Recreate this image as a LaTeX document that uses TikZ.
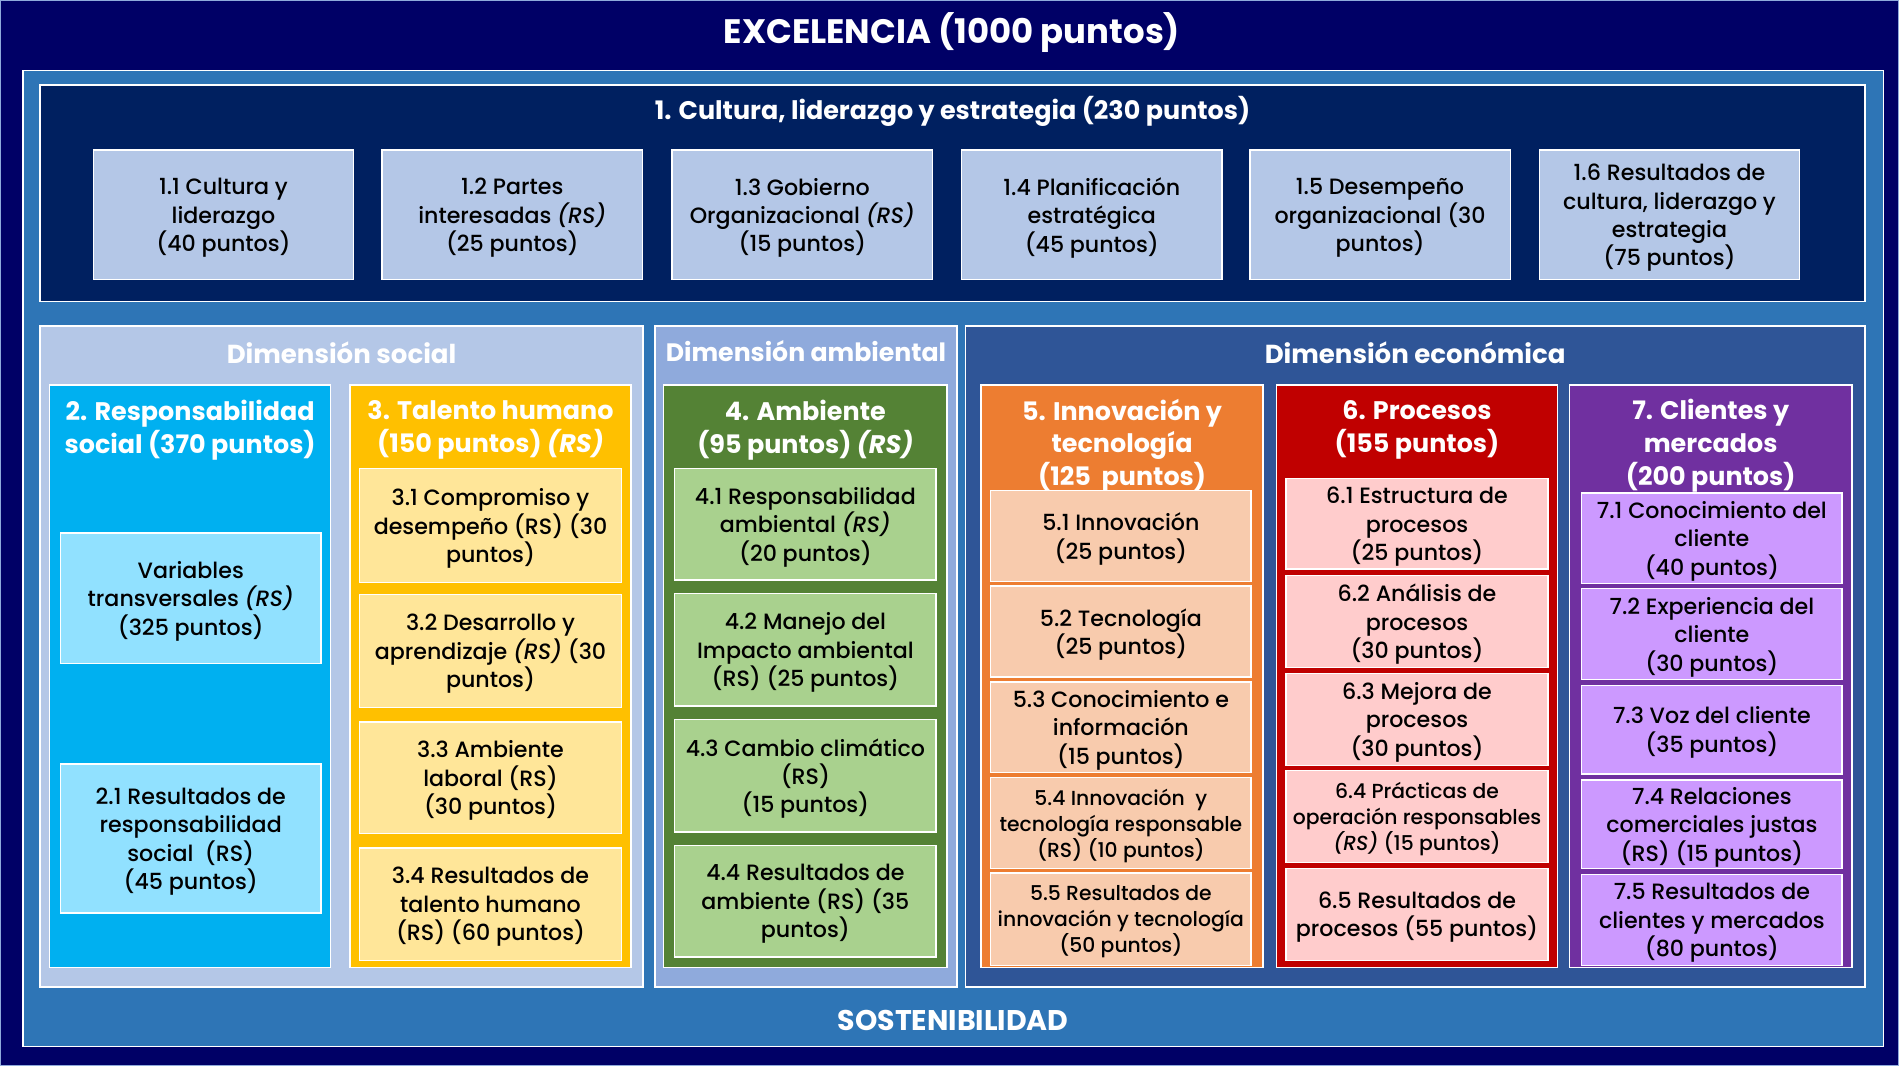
\documentclass[tikz,border=0pt]{standalone}
\usepackage{fontspec}
\setmainfont{Poppins}
\newfontfamily\medfont{Poppins Medium}[ItalicFont={Poppins Medium Italic}]
\definecolor{navybg}{HTML}{000066}
\definecolor{sost}{HTML}{2E75B6}
\definecolor{cult}{HTML}{002060}
\definecolor{lightb}{HTML}{B4C7E7}
\definecolor{dimamb}{HTML}{8FAADC}
\definecolor{dimeco}{HTML}{2F5597}
\definecolor{ctwo}{HTML}{00B0F0}
\definecolor{stwo}{HTML}{91E1FF}
\definecolor{cthree}{HTML}{FFC000}
\definecolor{sthree}{HTML}{FFE699}
\definecolor{cfour}{HTML}{548235}
\definecolor{sfour}{HTML}{A9D18E}
\definecolor{cfive}{HTML}{ED7D31}
\definecolor{sfive}{HTML}{F8CBAD}
\definecolor{csix}{HTML}{C00000}
\definecolor{ssix}{HTML}{FFCCCC}
\definecolor{cseven}{HTML}{7030A0}
\definecolor{sseven}{HTML}{CC99FF}
\newcommand\subfont{\medfont\fontsize{18.3}{23.5}\selectfont}
\newcommand\smallsubfont{\medfont\fontsize{16.8}{21.5}\selectfont}
\newcommand\coltitlefont{\fontsize{21}{27}\selectfont\bfseries}
\newcommand\dimfont{\fontsize{21.5}{24}\selectfont\bfseries}
\tikzset{
  frame/.style={draw=white, line width=1.2pt, inner sep=0pt},
  sub/.style={frame, align=center, text=black, font=\subfont, text depth=-1pt},
  wtitle/.style={text=white, inner sep=0pt, align=center},
  coltitle/.style={wtitle, font=\coltitlefont},
}
\begin{document}
\begin{tikzpicture}[x=1pt,y=-1pt]
\fill[navybg] (0,0) rectangle (1568,880);
\useasboundingbox (0,0) rectangle (1568,880);
\draw[dimamb, line width=1pt] (0.5,0.5) rectangle (1567.5,879.5);
\node[wtitle, font=\fontsize{28}{30}\selectfont\bfseries] (exc) at (786,27) {EXCELENCIA (1000 puntos)};
% sostenibilidad
\node[frame, fill=sost, minimum width=1536, minimum height=806] (sost) at (787,461) {};
\node[wtitle, font=\fontsize{23.5}{26}\selectfont\bfseries] (sosttxt) at (787,843) {SOSTENIBILIDAD};
% cultura
\node[frame, fill=cult, minimum width=1507, minimum height=179] (cult) at (786.5,159.5) {};
\node[wtitle, font=\fontsize{21}{24}\selectfont\bfseries] (culttxt) at (786.5,92) {1. Cultura, liderazgo y estrategia (230 puntos)};
\node[sub, fill=lightb, minimum width=215, minimum height=107] (b11) at (184.5,177.5) {1.1 Cultura y\\liderazgo\\(40 puntos)};
\node[sub, fill=lightb, minimum width=215, minimum height=107] (b12) at (423,177.5) {1.2 Partes\\interesadas \textit{(RS)}\\(25 puntos)};
\node[sub, fill=lightb, minimum width=215, minimum height=107] (b13) at (662.5,177.5) {1.3 Gobierno\\Organizacional \textit{(RS)}\\(15 puntos)};
\node[sub, fill=lightb, minimum width=215, minimum height=107] (b14) at (901.5,177.5) {1.4 Planificación\\estratégica\\(45 puntos)};
\node[sub, fill=lightb, minimum width=215, minimum height=107] (b15) at (1139.5,177.5) {1.5 Desempeño\\organizacional (30\\puntos)};
\node[sub, fill=lightb, minimum width=215, minimum height=107] (b16) at (1378.5,177.5) {1.6 Resultados de\\cultura, liderazgo y\\estrategia\\(75 puntos)};
% dimensions
\node[frame, fill=lightb, minimum width=498, minimum height=546] (dsoc) at (282,542) {};
\node[wtitle, font=\dimfont] (dsoctxt) at (282,291) {Dimensión social};
\node[frame, fill=dimamb, minimum width=249, minimum height=546] (damb) at (665.5,542) {};
\node[wtitle, font=\fontsize{20.8}{24}\selectfont\bfseries] (dambtxt) at (665.5,290) {Dimensión ambiental};
\node[frame, fill=dimeco, minimum width=743, minimum height=546] (deco) at (1168.5,542) {};
\node[wtitle, font=\dimfont] (decotxt) at (1168.5,291) {Dimensión económica};
% column 2
\node[frame, fill=ctwo, minimum width=232, minimum height=481] (c2) at (157,558.5) {};
\node[coltitle] (c2t) at (157,355) {2. Responsabilidad\\social (370 puntos)};
\node[sub, fill=stwo, minimum width=215, minimum height=108] (b2v) at (157.5,494) {Variables\\transversales \textit{(RS)}\\(325 puntos)};
\node[sub, fill=stwo, minimum width=215, minimum height=123] (b21) at (157.5,692.5) {2.1 Resultados de\\responsabilidad\\social\ \ (RS)\\(45 puntos)};
% column 3
\node[frame, fill=cthree, minimum width=232, minimum height=481] (c3) at (405,558.5) {};
\node[coltitle] (c3t) at (405,355) {3. Talento humano\\(150 puntos) \textit{(RS)}};
\node[sub, fill=sthree, minimum width=216, minimum height=94] (b31) at (405,434) {3.1 Compromiso y\\desempeño (RS) (30\\puntos)};
\node[sub, fill=sthree, minimum width=216, minimum height=93] (b32) at (405,537.5) {3.2 Desarrollo y\\aprendizaje \textit{(RS)} (30\\puntos)};
\node[sub, fill=sthree, minimum width=216, minimum height=92] (b33) at (405,642) {3.3 Ambiente\\laboral (RS)\\(30 puntos)};
\node[sub, fill=sthree, minimum width=216, minimum height=93] (b34) at (405,746.5) {3.4 Resultados de\\talento humano\\(RS) (60 puntos)};
% column 4
\node[frame, fill=cfour, minimum width=234, minimum height=481] (c4) at (665,558.5) {};
\node[coltitle] (c4t) at (665,355) {4. Ambiente\\(95 puntos) \textit{(RS)}};
\node[sub, fill=sfour, minimum width=216, minimum height=92] (b41) at (665,433) {4.1 Responsabilidad\\ambiental \textit{(RS)}\\(20 puntos)};
\node[sub, fill=sfour, minimum width=216, minimum height=93] (b42) at (665,536.5) {4.2 Manejo del\\Impacto ambiental\\(RS) (25 puntos)};
\node[sub, fill=sfour, minimum width=216, minimum height=93] (b43) at (665,640.5) {4.3 Cambio climático\\(RS)\\(15 puntos)};
\node[sub, fill=sfour, minimum width=216, minimum height=92] (b44) at (665,744) {4.4 Resultados de\\ambiente (RS) (35\\puntos)};
% column 5
\node[frame, fill=cfive, minimum width=233, minimum height=481] (c5) at (926.5,558.5) {};
\node[coltitle] (c5t) at (926.5,368) {5. Innovación y\\tecnología\\(125\ \ puntos)};
\node[sub, fill=sfive, minimum width=215, minimum height=75] (b51) at (925.5,442.5) {5.1 Innovación\\(25 puntos)};
\node[sub, fill=sfive, minimum width=215, minimum height=75] (b52) at (925.5,521.5) {5.2 Tecnología\\(25 puntos)};
\node[sub, fill=sfive, minimum width=215, minimum height=75] (b53) at (925.5,600.5) {5.3 Conocimiento e\\información\\(15 puntos)};
\node[sub, fill=sfive, minimum width=215, minimum height=75, font=\smallsubfont] (b54) at (925.5,679.5) {5.4 Innovación\ \ y\\tecnología responsable\\(RS) (10 puntos)};
\node[sub, fill=sfive, minimum width=215, minimum height=76, font=\smallsubfont] (b55) at (925.5,759) {5.5 Resultados de\\innovación y tecnología\\(50 puntos)};
% column 6
\node[frame, fill=csix, minimum width=232, minimum height=481] (c6) at (1170,558.5) {};
\node[coltitle] (c6t) at (1170,355) {6. Procesos\\(155 puntos)};
\node[sub, fill=ssix, minimum width=216, minimum height=75] (b61) at (1170,432.5) {6.1 Estructura de\\procesos\\(25 puntos)};
\node[sub, fill=ssix, minimum width=216, minimum height=76] (b62) at (1170,513) {6.2 Análisis de\\procesos\\(30 puntos)};
\node[sub, fill=ssix, minimum width=216, minimum height=76] (b63) at (1170,594) {6.3 Mejora de\\procesos\\(30 puntos)};
\node[sub, fill=ssix, minimum width=216, minimum height=76, font=\smallsubfont] (b64) at (1170,674) {6.4 Prácticas de\\operación responsables\\\textit{(RS)} (15 puntos)};
\node[sub, fill=ssix, minimum width=216, minimum height=76] (b65) at (1170,755) {6.5 Resultados de\\procesos (55 puntos)};
% column 7
\node[frame, fill=cseven, minimum width=233, minimum height=481] (c7) at (1412.5,558.5) {};
\node[coltitle] (c7t) at (1412.5,368) {7. Clientes y\\mercados\\(200 puntos)};
\node[sub, fill=sseven, minimum width=215, minimum height=75] (b71) at (1413.5,444.5) {7.1 Conocimiento del\\cliente\\(40 puntos)};
\node[sub, fill=sseven, minimum width=215, minimum height=75] (b72) at (1413.5,523.5) {7.2 Experiencia del\\cliente\\(30 puntos)};
\node[sub, fill=sseven, minimum width=215, minimum height=73] (b73) at (1413.5,602.5) {7.3 Voz del cliente\\(35 puntos)};
\node[sub, fill=sseven, minimum width=215, minimum height=73] (b74) at (1413.5,680.5) {7.4 Relaciones\\comerciales justas\\(RS) (15 puntos)};
\node[sub, fill=sseven, minimum width=215, minimum height=75] (b75) at (1413.5,759.5) {7.5 Resultados de\\clientes y mercados\\(80 puntos)};
\end{tikzpicture}
\end{document}
